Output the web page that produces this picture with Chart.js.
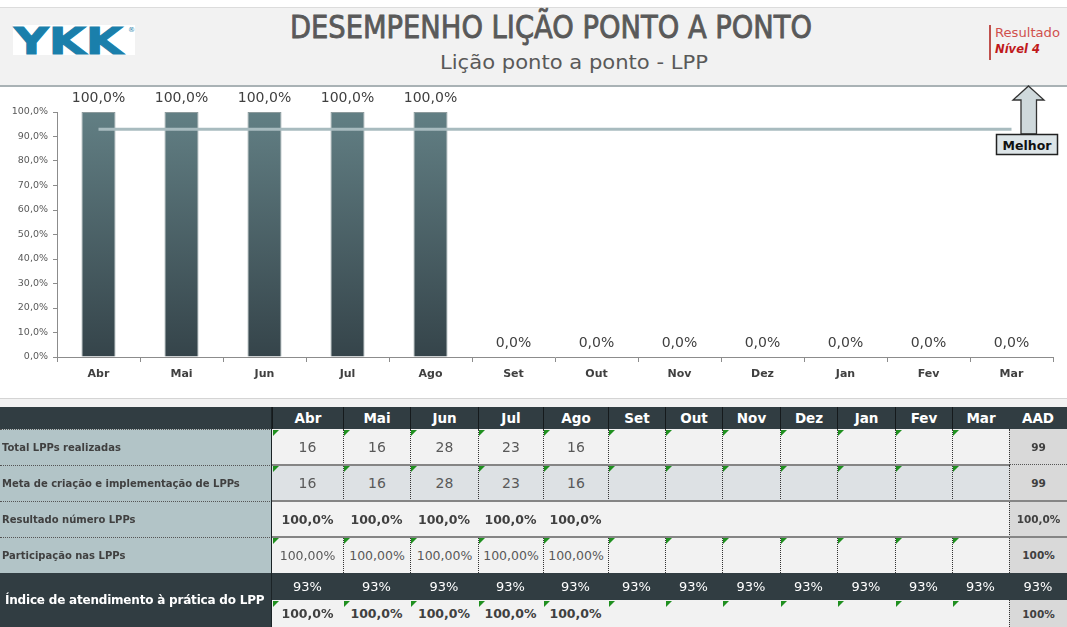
<!DOCTYPE html>
<html><head><meta charset="utf-8">
<script src="https://cdn.jsdelivr.net/npm/chart.js@4.4.1/dist/chart.umd.min.js"></script>
<style>
html,body{margin:0;padding:0;background:#fff;width:1067px;height:627px;overflow:hidden;font-family:"DejaVu Sans",sans-serif;}
.abs{position:absolute;}
.c{position:absolute;box-sizing:border-box;display:flex;align-items:center;justify-content:center;white-space:nowrap;overflow:hidden;}
.tri{position:absolute;width:0;height:0;border-top:6px solid #1f8f1f;border-right:6px solid transparent;}
</style>
</head><body>
<div class="abs" style="left:0;top:7px;width:1067px;height:77px;background:#f2f2f2;border-top:1px solid #dcdcdc;border-bottom:2px solid #a9b2b5;"></div>
<svg class="abs" style="left:0;top:0;" width="1067" height="86">
  <rect x="13" y="25" width="122" height="30" fill="#fff"/>
  <text x="14" y="54" font-family="DejaVu Sans" font-weight="bold" font-size="37" fill="#1a7fab" stroke="#1a7fab" stroke-width="1" textLength="109" lengthAdjust="spacingAndGlyphs">YKK</text>
  <text x="128" y="32" font-family="DejaVu Sans" font-size="7" fill="#1a7fab">®</text>
  <text x="290" y="38" font-family="DejaVu Sans" font-size="32" fill="#595959" stroke="#595959" stroke-width="0.9" textLength="522" lengthAdjust="spacingAndGlyphs">DESEMPENHO LIÇÃO PONTO A PONTO</text>
  <text x="440" y="69" font-family="DejaVu Sans" font-size="20" fill="#595959" textLength="268" lengthAdjust="spacingAndGlyphs">Lição ponto a ponto - LPP</text>
  <line x1="990" y1="25" x2="990" y2="60" stroke="#c0504d" stroke-width="2"/>
  <text x="995" y="37" font-family="DejaVu Sans" font-size="12.5" fill="#d0504d" textLength="65" lengthAdjust="spacingAndGlyphs">Resultado</text>
  <text x="995" y="53" font-family="DejaVu Sans" font-size="12" font-weight="bold" font-style="italic" fill="#c0191b" textLength="45" lengthAdjust="spacingAndGlyphs">Nível 4</text>
</svg>
<div class="abs" style="left:0;top:86px;width:1067px;height:306px;">
  <canvas id="chart" width="1067" height="306"></canvas>
</div>
<svg class="abs" style="left:0;top:0;" width="1067" height="160">
  <polygon points="1028.5,86 1044,100 1036.5,100 1036.5,134 1021,134 1021,100 1013,100" fill="#cfd9dc" stroke="#333" stroke-width="1.3"/>
  <rect x="996.5" y="134.5" width="61" height="20" fill="#dde5e8" stroke="#222" stroke-width="1.5"/>
  <text x="1027" y="149.5" text-anchor="middle" font-family="DejaVu Sans" font-weight="bold" font-size="12.5" fill="#111">Melhor</text>
</svg>
<div class="abs" style="left:0;top:398px;width:1067px;height:9px;background:#f2f2f2;border-top:1px solid #d4d4d4;box-sizing:border-box;"></div>
<div id="table" class="abs" style="left:0;top:0;width:1067px;height:627px;"></div>
<script>
// ---- data ----
const months = ['Abr','Mai','Jun','Jul','Ago','Set','Out','Nov','Dez','Jan','Fev','Mar'];
const resultadoPct = [100,100,100,100,100,0,0,0,0,0,0,0];
const metaIndicePct = [93,93,93,93,93,93,93,93,93,93,93,93];
const totalLPPs = [16,16,28,23,16,null,null,null,null,null,null,null];
const metaLPPs = [16,16,28,23,16,null,null,null,null,null,null,null];
const resultadoNumero = [100,100,100,100,100,null,null,null,null,null,null,null];
const participacao = [100,100,100,100,100,null,null,null,null,null,null,null];
const indiceMeta = [93,93,93,93,93,93,93,93,93,93,93,93];
const indiceReal = [100,100,100,100,100,null,null,null,null,null,null,null];
const aadValues = ['99','99','100,0%','100%','93%','100%'];
const rowLabels = ['Total LPPs realizadas','Meta de criação e implementação de LPPs','Resultado número LPPs','Participação nas LPPs'];
const indiceLabel = 'Índice de atendimento à prática do LPP';

const fmt1 = v => v.toFixed(1).replace('.', ',') + '%';
const fmt2 = v => v.toFixed(2).replace('.', ',') + '%';
const fmt0 = v => Math.round(v) + '%';

// ---- chart ----
const valueLabels = {
  id: 'valueLabels',
  afterDatasetsDraw(chart) {
    const meta = chart.getDatasetMeta(1);
    const c = chart.ctx;
    c.save();
    c.font = '14px "DejaVu Sans"';
    c.fillStyle = '#404040';
    c.textAlign = 'center';
    c.textBaseline = 'bottom';
    meta.data.forEach((bar, i) => {
      c.fillText(fmt1(chart.data.datasets[1].data[i]), bar.x, bar.y - 7);
    });
    c.restore();
  }
};
const barGradient = (ctx) => {
  const chart = ctx.chart;
  const area = chart.chartArea;
  if (!area) return '#4d6266';
  const g = chart.ctx.createLinearGradient(0, area.top, 0, area.bottom);
  g.addColorStop(0, '#627f84');
  g.addColorStop(1, '#35444a');
  return g;
};
new Chart(document.getElementById('chart'), {
  type: 'bar',
  data: {
    labels: months,
    datasets: [
      {type: 'line', label: 'Meta', data: metaIndicePct, borderColor: '#a8bbbf', borderWidth: 3, pointRadius: 0, order: 0},
      {type: 'bar', label: 'Resultado', data: resultadoPct, backgroundColor: barGradient, borderColor: '#8d9b9d', borderWidth: 1, barPercentage: 0.41, categoryPercentage: 1, order: 1}
    ]
  },
  options: {
    responsive: false, animation: false,
    layout: {padding: {top: 26, right: 14, left: 0, bottom: 0}},
    plugins: {legend: {display: false}, tooltip: {enabled: false}},
    scales: {
      x: {
        grid: {display: true, drawOnChartArea: false, tickLength: 5, color: '#8c8c8c', offset: true},
        border: {color: '#8c8c8c'},
        ticks: {font: {family: 'DejaVu Sans', size: 11, weight: 'bold'}, color: '#404040', padding: 6},
        afterFit: s => { s.height = 35; }
      },
      y: {
        min: 0, max: 100,
        ticks: {stepSize: 10, callback: v => fmt1(v), font: {family: 'DejaVu Sans', size: 9.5}, color: '#595959', padding: 5},
        grid: {drawOnChartArea: false, tickLength: 4, color: '#8c8c8c'},
        border: {color: '#8c8c8c'},
        afterFit: s => { s.width = 57; }
      }
    }
  },
  plugins: [valueLabels]
});

// ---- table ----
const root = document.getElementById('table');
const xs = [0,272,343,410,478,543,608,665,722,780,837,895,952,1009,1067];
const ys = [407,429,465,501,537,573,600,627];
function box(l, t, w, h, style, text) {
  const d = document.createElement('div');
  d.className = 'c';
  d.style.cssText = `left:${l}px;top:${t}px;width:${w}px;height:${h}px;` + style;
  if (text != null) d.textContent = text;
  root.appendChild(d);
  return d;
}
function tri(l, t) {
  const d = document.createElement('div');
  d.className = 'tri';
  d.style.left = (l + 1) + 'px'; d.style.top = (t + 1) + 'px';
  root.appendChild(d);
}
const DARK = '#313d42';
// header
box(0, ys[0], xs[1], ys[1]-ys[0], `background:${DARK};`);
months.concat(['AAD']).forEach((m, i) => {
  const l = xs[i+1], w = xs[i+2]-xs[i+1];
  box(l, ys[0], w, ys[1]-ys[0], `background:${DARK};color:#fff;font-weight:bold;font-size:13.5px;` + (i < 12 ? 'border-left:1px solid #151a1c;' : ''), m);
});
// label column
rowLabels.forEach((lab, r) => {
  box(0, ys[r+1], xs[1], ys[r+2]-ys[r+1], 'background:#b2c4c7;justify-content:flex-start;padding-left:2px;font-weight:bold;font-size:10px;color:#404040;border-top:1px dotted #555;', lab);
});
box(0, ys[5], xs[1], ys[7]-ys[5], `background:${DARK};color:#fff;font-weight:bold;font-size:12px;letter-spacing:-0.2px;justify-content:flex-start;padding-left:5px;`, indiceLabel);
// data rows
const rows = [
  {vals: totalLPPs.map(v => v == null ? '' : String(v)), bg: '#f2f2f2', st: 'font-size:14px;color:#595959;', dots: true, tri: true},
  {vals: metaLPPs.map(v => v == null ? '' : String(v)), bg: '#dde1e4', st: 'font-size:14px;color:#595959;', dots: true, tri: true},
  {vals: resultadoNumero.map(v => v == null ? '' : fmt1(v)), bg: '#f2f2f2', st: 'font-size:12.5px;font-weight:bold;color:#404040;', dots: false, tri: false},
  {vals: participacao.map(v => v == null ? '' : fmt2(v)), bg: '#f2f2f2', st: 'font-size:12.5px;color:#595959;', dots: true, tri: true},
  {vals: indiceMeta.map(v => fmt0(v)), bg: DARK, st: 'font-size:13px;color:#fff;', dots: false, tri: false},
  {vals: indiceReal.map(v => v == null ? '' : fmt1(v)), bg: '#f2f2f2', st: 'font-size:12.5px;font-weight:bold;color:#404040;', dots: false, tri: true}
];
rows.forEach((row, r) => {
  const t = ys[r+1], h = ys[r+2]-ys[r+1];
  row.vals.forEach((v, i) => {
    const l = xs[i+1], w = xs[i+2]-xs[i+1];
    let st = `background:${row.bg};` + row.st;
    if (row.dots && i > 0) st += 'border-left:1px dotted #333;';
    box(l, t, w, h, st, v);
    if (row.tri) tri(l, t);
  });
  const aadBg = r === 4 ? DARK : '#d9d9d9';
  const aadSt = r === 4 ? 'font-size:13px;color:#fff;' : 'font-size:10.5px;font-weight:bold;color:#404040;border-left:1px dotted #333;';
  box(xs[13], t, xs[14]-xs[13], h, `background:${aadBg};` + aadSt, aadValues[r]);
});
// horizontal separators in data area
[ys[2], ys[3], ys[4]].forEach(y => {
  box(xs[1], y-1, xs[13]-xs[1], 2, 'background:#858585;');
});
box(xs[13], ys[2]-1, xs[14]-xs[13], 1, 'border-top:1px dotted #555;');
[ys[3], ys[4]].forEach(y => box(xs[13], y-1, xs[14]-xs[13], 2, 'background:#858585;'));
// vertical separator after label column
box(xs[1]-1, ys[0], 1, ys[7]-ys[0], 'background:#1b2326;');
</script>
</body></html>
